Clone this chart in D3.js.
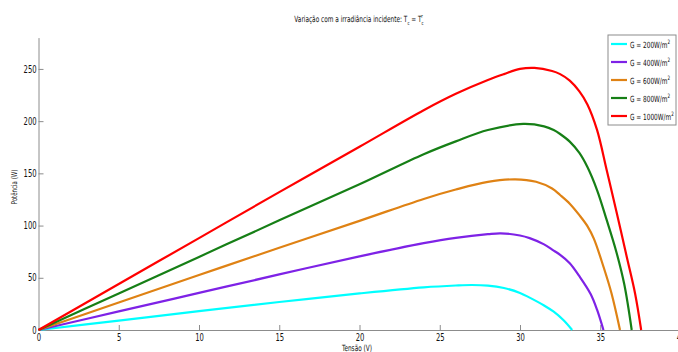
<!DOCTYPE html>
<html>
<head>
<meta charset="utf-8">
<script src="https://cdn.jsdelivr.net/npm/d3@7"></script>
<style>
  html, body { margin: 0; padding: 0; background: #fff; }
  svg { display: block; }
  .lbl { font-family: "Liberation Sans Narrow", "DejaVu Sans Condensed", sans-serif; fill: #111; }
</style>
</head>
<body>
<svg id="chart" width="678" height="352"></svg>
<script>
// P–V curves of a PV module at different irradiance levels (cell temperature fixed)
const seriesLabels = ["200", "400", "600", "800", "1000"];
const seriesColors = ["#00ffff", "#7e22e6", "#df8214", "#167f16", "#ff0000"];

// voltage (V) / power (W) samples for each irradiance
const g200V  = [0, 5, 10, 15, 20, 24, 26, 27, 28, 29, 30, 30.6, 31.5, 32.1, 32.7, 33.25];
const g200P  = [0, 9, 18, 26.8, 35, 40.8, 42.6, 43.1, 42.5, 40.2, 35.5, 31, 23.5, 17.5, 9.5, 0];
const g400V  = [0, 5, 10, 15, 20, 24, 26, 28, 28.8, 30, 30.6, 31.5, 32.1, 32.5, 33.1, 33.7, 34.4, 34.8, 35.2];
const g400P  = [0, 17.8, 35.5, 53.2, 70.5, 83.2, 88.3, 91.8, 92.6, 90.5, 88, 82, 76, 72, 64, 51.5, 34.5, 19.5, 0];
const g600V  = [0, 5, 10, 15, 20, 24, 26, 28, 29.7, 31, 32, 32.5, 33.1, 33.7, 34.2, 34.6, 35.2, 35.7, 36.23];
const g600P  = [0, 26.3, 52.6, 78.8, 104.5, 125.5, 134.5, 141.8, 144.3, 142, 135.5, 129.3, 121, 110, 99.5, 87.5, 60.6, 35.2, 0];
const g800V  = [0, 5, 10, 15, 20, 24, 26, 28, 30.2, 31.5, 32.1, 32.5, 33.1, 33.7, 34.2, 34.8, 35.4, 36, 36.5, 36.96];
const g800P  = [0, 35, 70, 105, 139.5, 168.3, 180.6, 191.5, 197.3, 195, 191.5, 187.7, 180.4, 169.5, 156, 134, 105.4, 75, 43.5, 0];
const g1000V = [0, 5, 10, 15, 20, 24, 26, 28, 29, 30, 30.9, 32, 32.5, 33.1, 33.7, 34.2, 34.8, 35.4, 36, 36.65, 37.17, 37.55];
const g1000P = [0, 44, 88, 132, 175.5, 210.5, 226.2, 239.4, 245, 250, 251, 248, 245, 238.8, 228.5, 216, 191.6, 153.3, 114, 70.2, 35, 0];

const xTicks = [0, 5, 10, 15, 20, 25, 30, 35, 40];
const yTicks = [0, 50, 100, 150, 200, 250];

const voltages = [g200V, g400V, g600V, g800V, g1000V];
const powers   = [g200P, g400P, g600P, g800P, g1000P];
const series = seriesLabels.map((name, i) => ({
  name,
  color: seriesColors[i],
  values: voltages[i].map((v, j) => ({ v, p: powers[i][j] }))
}));

const svg = d3.select("#chart");
const font = '"Liberation Sans Narrow", "DejaVu Sans Condensed", sans-serif';
const narrow = 0.76; // horizontal squeeze for the condensed lettering

const x = d3.scaleLinear().domain([0, 40]).range([38.5, 680.5]);
const y = d3.scaleLinear().domain([0, 280]).range([330, 37.6]);

// axes (ticks drawn inward, grey)
const axisColor = "#8c8c8c";
const gx = svg.append("g").attr("transform", `translate(0,${y(0)})`)
  .call(d3.axisBottom(x).tickValues(xTicks).tickSizeInner(-5).tickSizeOuter(0).tickPadding(4));
const gy = svg.append("g").attr("transform", `translate(${x(0)},0)`)
  .call(d3.axisLeft(y).tickValues(yTicks).tickSizeInner(-5).tickSizeOuter(0).tickPadding(2.5));
[gx, gy].forEach(g => {
  g.select(".domain").attr("stroke", axisColor);
  g.selectAll(".tick line").attr("stroke", axisColor);
  g.selectAll(".tick text").attr("font-family", font).attr("font-size", 10).attr("fill", "#111")
    .attr("transform", `scale(${narrow},1)`);
});
gx.selectAll(".tick line").filter(d => d === 0).remove();
gy.selectAll(".tick line").filter(d => d === 0).remove();

// curves
const line = d3.line().x(d => x(d.v)).y(d => y(d.p)).curve(d3.curveCatmullRom.alpha(0.5));
svg.append("g").selectAll("path").data(series).join("path")
  .attr("d", d => line(d.values))
  .attr("fill", "none")
  .attr("stroke", d => d.color)
  .attr("stroke-width", 2.2)
  .attr("stroke-linejoin", "round");

// helper: squeezed text group anchored at (px, py)
function label(px, py, rotate) {
  return svg.append("g")
    .attr("transform", `translate(${px},${py})${rotate ? ` rotate(${rotate})` : ""} scale(${narrow},1)`)
    .append("text").attr("class", "lbl");
}

// title
const title = label(359, 22).attr("text-anchor", "middle").attr("font-size", 8.5);
title.append("tspan").text("Variação com a irradiância incidente: T");
title.append("tspan").attr("dy", 3).attr("font-size", 5.5).text("c");
title.append("tspan").attr("dy", -3).text(" = T");
title.append("tspan").attr("dy", 3).attr("font-size", 5.5).text("c");
title.append("tspan").attr("dy", -7).attr("dx", -3).attr("font-size", 5.5).text("r");

// axis titles
label(357, 351).attr("text-anchor", "middle").attr("font-size", 8.5).text("Tensão (V)");
label(17, 187, -90).attr("text-anchor", "middle").attr("font-size", 8).text("Potência (W)");

// legend
const lg = svg.append("g").attr("transform", "translate(608,35)");
lg.append("rect").attr("width", 68).attr("height", 90)
  .attr("fill", "#fff").attr("stroke", axisColor).attr("stroke-width", 1);
series.forEach((s, i) => {
  const row = lg.append("g").attr("transform", `translate(0,${9 + i * 18})`);
  row.append("line").attr("x1", 3).attr("x2", 19).attr("y1", 0).attr("y2", 0)
    .attr("stroke", s.color).attr("stroke-width", 2.2);
  const t = row.append("g").attr("transform", `translate(22,3.5) scale(${narrow},1)`)
    .append("text").attr("class", "lbl").attr("font-size", 8.5);
  t.append("tspan").text(`G = ${s.name}W/m`);
  t.append("tspan").attr("dy", -4).attr("font-size", 6).text("2");
});
</script>
</body>
</html>
